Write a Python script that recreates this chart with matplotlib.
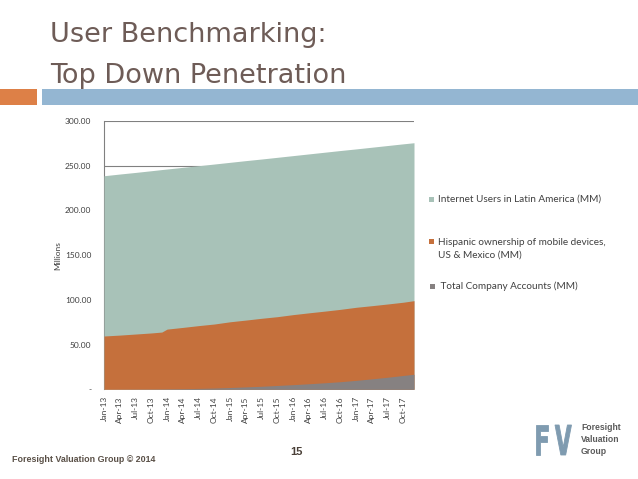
import matplotlib.pyplot as plt
from matplotlib.patches import Rectangle, PathPatch
from matplotlib.textpath import TextPath
from matplotlib.font_manager import FontProperties
from matplotlib.transforms import Affine2D
import numpy as np

# month index (0 = Jan-13) of each reading
months = [0, 3, 6, 9, 11, 12, 15, 18, 21, 24, 27, 30, 33, 36, 39, 42, 45, 48, 51, 54, 57, 59]
internet_users = [238.8, 240.7, 242.5, 244.4, 245.7, 246.3, 248.2, 250.0, 251.9, 253.8, 255.7,
                  257.5, 259.4, 261.3, 263.2, 265.1, 267.0, 268.8, 270.7, 272.6, 274.5, 275.7]
hispanic_mobile = [59.6, 60.6, 61.8, 63.0, 64.0, 67.3, 69.2, 71.2, 73.0, 75.5, 77.4,
                   79.4, 81.2, 83.5, 85.5, 87.4, 89.4, 91.7, 93.5, 95.4, 97.4, 99.1]
company_accounts = [0.0, 0.1, 0.2, 0.3, 0.4, 0.5, 0.7, 1.0, 1.4, 2.0, 2.7,
                    3.4, 4.3, 5.2, 6.2, 7.3, 8.5, 10.0, 11.7, 13.5, 15.5, 16.8]

tick_months = [0, 3, 6, 9, 12, 15, 18, 21, 24, 27, 30, 33, 36, 39, 42, 45, 48, 51, 54, 57]
tick_labels = ['Jan-13', 'Apr-13', 'Jul-13', 'Oct-13', 'Jan-14', 'Apr-14', 'Jul-14', 'Oct-14',
               'Jan-15', 'Apr-15', 'Jul-15', 'Oct-15', 'Jan-16', 'Apr-16', 'Jul-16', 'Oct-16',
               'Jan-17', 'Apr-17', 'Jul-17', 'Oct-17']
y_ticks = [0, 50, 100, 150, 200, 250, 300]
y_labels = ['-', '50.00', '100.00', '150.00', '200.00', '250.00', '300.00']

series_names = ['Internet Users in Latin America (MM)',
                'Hispanic ownership of mobile devices,\nUS & Mexico (MM)',
                ' Total Company Accounts (MM)']
colors = ['#a8c2b8', '#c5703c', '#868181']

W, H = 638, 479
fig = plt.figure(figsize=(W / 100, H / 100), dpi=100)

def fx(px):
    return px / W

def fy(py):
    return 1 - py / H

# header bars
fig.patches.append(Rectangle((0, fy(105)), fx(36.7), (105 - 89) / H, transform=fig.transFigure,
                             color='#dd8047', lw=0))
fig.patches.append(Rectangle((fx(41.7), fy(105)), 1, (105 - 89) / H, transform=fig.transFigure,
                             color='#94b6d2', lw=0))

title_color = '#6e5c57'
fig.text(fx(50), fy(42), 'User Benchmarking:', fontsize=19.5, color=title_color,
         family='DejaVu Sans', va='baseline', ha='left')
fig.text(fx(50), fy(83), 'Top Down Penetration', fontsize=19.5, color=title_color,
         family='DejaVu Sans', va='baseline', ha='left')

# chart
ax = fig.add_axes([fx(104), fy(389.3), fx(414) - fx(104), (389.3 - 121) / H])
for vals, c in zip([internet_users, hispanic_mobile, company_accounts], colors):
    ax.fill_between(months, 0, vals, color=c, lw=0, zorder=3)

ax.set_xlim(0, 59)
ax.set_ylim(0, 300)
ax.set_yticks(y_ticks)
ax.set_yticklabels(y_labels)
ax.set_xticks(tick_months)
ax.set_xticklabels(tick_labels, rotation=90)
ax.tick_params(length=0, labelsize=6, labelcolor='#404040')
ax.tick_params(axis='y', pad=9)
ax.tick_params(axis='x', pad=5)
for lab in ax.get_xticklabels() + ax.get_yticklabels():
    lab.set_family('Lato')
ax.grid(axis='y', color='#808080', lw=0.8, zorder=1)
ax.set_axisbelow(True)
for s in ['top', 'right', 'bottom']:
    ax.spines[s].set_visible(False)
ax.spines['left'].set_color('#808080')
ax.spines['left'].set_linewidth(0.8)
ax.set_ylabel('Millions', fontsize=6, color='#404040', family='Lato', labelpad=3)

# legend
leg_y = [199, 241.7, 286.5]
txt_y = [199, 249, 286.5]
leg_x = [431, 431, 432]
for name, c, ly, ty, lx in zip(series_names, colors, leg_y, txt_y, leg_x):
    fig.patches.append(Rectangle((fx(lx - 2.5), fy(ly + 2.5)), 5 / W, 5 / H,
                                 transform=fig.transFigure, color=c, lw=0))
    fig.text(fx(437.5), fy(ty), name, fontsize=7.2, color='#404040', family='Lato',
             va='center', ha='left', linespacing=1.45)

# footer
fig.text(fx(12), fy(459.5), 'Foresight Valuation Group \u00a9 2014', fontsize=6.4,
         weight='bold', color='#5a5047', family='Liberation Sans', va='center')
fig.text(fx(296), fy(452), '15', fontsize=8, weight='bold', color='#4a4038',
         family='Liberation Sans', va='center', ha='center')

# logo: condensed "FV" drawn as scaled text paths (pixel coordinates)
logo_prop = FontProperties(family='DejaVu Sans', weight='bold')
for letter, x0, w in [('F', 536, 11.5), ('V', 555, 16.5)]:
    tp = TextPath((0, 0), letter, size=10, prop=logo_prop)
    ext = tp.get_extents()
    tr = (Affine2D().translate(-ext.x0, -ext.y0)
          .scale(w / ext.width, 30 / ext.height).translate(x0, H - 455))
    fig.patches.append(PathPatch(tp, transform=tr, color='#7f9bb0', lw=0.6, ec='#7f9bb0'))
for ly, word in zip([428, 439.5, 451], ['Foresight', 'Valuation', 'Group']):
    fig.text(fx(581), fy(ly), word, fontsize=6.2, weight='bold', color='#5a5a5a',
             family='Liberation Sans', va='center', ha='left')

fig.savefig('out.png', dpi=100)
